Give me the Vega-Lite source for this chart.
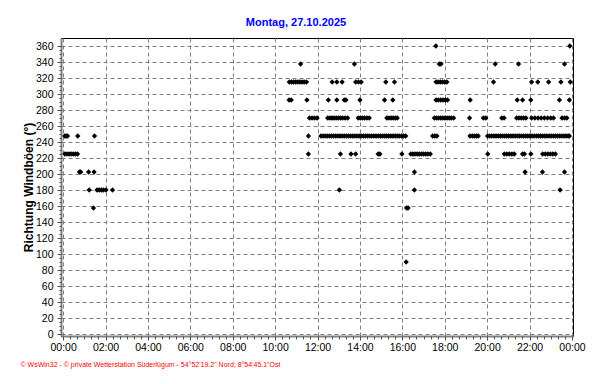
{
 "$schema": "https://vega.github.io/schema/vega-lite/v6.json",
 "width": 512,
 "height": 298,
 "autosize": {"type": "none"},
 "padding": {"left": 61, "top": 38, "right": 19, "bottom": 48},
 "background": "#ffffff",
 "title": {"text": "Montag, 27.10.2025", "color": "#0000ff", "font": "Liberation Sans", "fontSize": 11, "fontWeight": "bold", "anchor": "middle", "dx": -21, "offset": 10},
 "config": {
  "view": {"stroke": "#000000", "strokeWidth": 1},
  "axis": {"labelFont": "Liberation Sans", "labelFontSize": 10.5, "labelColor": "#000000", "gridColor": "#808080", "gridDash": [4, 3], "gridWidth": 1, "gridOpacity": 1, "domainColor": "#808080", "domainWidth": 2, "tickColor": "#505050", "tickSize": 4}
 },
 "data": {"values": [
  {"t": 17.58, "d": 360}, {"t": 23.9, "d": 360},
  {"t": 11.2, "d": 337.5}, {"t": 13.74, "d": 337.5}, {"t": 17.74, "d": 337.5}, {"t": 17.82, "d": 337.5}, {"t": 20.38, "d": 337.5}, {"t": 21.48, "d": 337.5}, {"t": 23.65, "d": 337.5},
  {"t": 10.67, "d": 315}, {"t": 10.77, "d": 315}, {"t": 10.87, "d": 315}, {"t": 10.97, "d": 315}, {"t": 11.07, "d": 315}, {"t": 11.17, "d": 315}, {"t": 11.27, "d": 315}, {"t": 11.37, "d": 315}, {"t": 11.48, "d": 315},
  {"t": 12.69, "d": 315}, {"t": 12.91, "d": 315}, {"t": 13.16, "d": 315}, {"t": 13.8, "d": 315}, {"t": 13.93, "d": 315}, {"t": 14.06, "d": 315}, {"t": 15.22, "d": 315}, {"t": 15.63, "d": 315},
  {"t": 17.59, "d": 315}, {"t": 17.69, "d": 315}, {"t": 17.79, "d": 315}, {"t": 17.89, "d": 315}, {"t": 17.99, "d": 315}, {"t": 18.1, "d": 315},
  {"t": 20.3, "d": 315}, {"t": 22.1, "d": 315}, {"t": 22.39, "d": 315}, {"t": 22.9, "d": 315}, {"t": 23.48, "d": 315}, {"t": 23.92, "d": 315},
  {"t": 10.66, "d": 292.5}, {"t": 10.76, "d": 292.5}, {"t": 11.5, "d": 292.5}, {"t": 12.51, "d": 292.5}, {"t": 12.91, "d": 292.5}, {"t": 13.26, "d": 292.5}, {"t": 13.34, "d": 292.5}, {"t": 14.0, "d": 292.5}, {"t": 15.16, "d": 292.5}, {"t": 15.55, "d": 292.5},
  {"t": 17.59, "d": 292.5}, {"t": 17.7, "d": 292.5}, {"t": 17.81, "d": 292.5}, {"t": 17.92, "d": 292.5}, {"t": 18.03, "d": 292.5}, {"t": 18.13, "d": 292.5},
  {"t": 19.2, "d": 292.5}, {"t": 21.42, "d": 292.5}, {"t": 21.67, "d": 292.5}, {"t": 22.06, "d": 292.5}, {"t": 23.41, "d": 292.5}, {"t": 23.88, "d": 292.5},
  {"t": 11.62, "d": 270}, {"t": 11.74, "d": 270}, {"t": 11.86, "d": 270}, {"t": 11.98, "d": 270},
  {"t": 12.48, "d": 270}, {"t": 12.58, "d": 270}, {"t": 12.68, "d": 270}, {"t": 12.78, "d": 270}, {"t": 12.88, "d": 270}, {"t": 12.98, "d": 270}, {"t": 13.08, "d": 270}, {"t": 13.18, "d": 270}, {"t": 13.3, "d": 270}, {"t": 13.42, "d": 270},
  {"t": 13.92, "d": 270}, {"t": 14.02, "d": 270}, {"t": 14.12, "d": 270}, {"t": 14.22, "d": 270}, {"t": 14.33, "d": 270}, {"t": 14.44, "d": 270},
  {"t": 15.27, "d": 270}, {"t": 15.37, "d": 270}, {"t": 15.47, "d": 270}, {"t": 15.57, "d": 270}, {"t": 15.67, "d": 270}, {"t": 15.76, "d": 270},
  {"t": 17.51, "d": 270}, {"t": 17.61, "d": 270}, {"t": 17.71, "d": 270}, {"t": 17.81, "d": 270}, {"t": 17.91, "d": 270}, {"t": 18.01, "d": 270}, {"t": 18.11, "d": 270}, {"t": 18.21, "d": 270}, {"t": 18.31, "d": 270}, {"t": 18.42, "d": 270},
  {"t": 19.17, "d": 270}, {"t": 19.82, "d": 270}, {"t": 19.94, "d": 270}, {"t": 20.69, "d": 270}, {"t": 20.8, "d": 270},
  {"t": 21.39, "d": 270}, {"t": 21.5, "d": 270}, {"t": 21.61, "d": 270}, {"t": 21.72, "d": 270}, {"t": 21.83, "d": 270},
  {"t": 22.1, "d": 270}, {"t": 22.25, "d": 270}, {"t": 22.4, "d": 270}, {"t": 22.55, "d": 270}, {"t": 22.7, "d": 270}, {"t": 22.85, "d": 270}, {"t": 23.0, "d": 270}, {"t": 23.13, "d": 270},
  {"t": 23.53, "d": 270}, {"t": 23.65, "d": 270}, {"t": 23.76, "d": 270},
  {"t": 0.08, "d": 247.5}, {"t": 0.15, "d": 247.5}, {"t": 0.21, "d": 247.5}, {"t": 0.69, "d": 247.5}, {"t": 1.48, "d": 247.5}, {"t": 11.57, "d": 247.5},
  {"t": 12.16, "d": 247.5}, {"t": 12.26, "d": 247.5}, {"t": 12.36, "d": 247.5}, {"t": 12.46, "d": 247.5}, {"t": 12.56, "d": 247.5}, {"t": 12.66, "d": 247.5}, {"t": 12.76, "d": 247.5}, {"t": 12.86, "d": 247.5}, {"t": 12.96, "d": 247.5}, {"t": 13.06, "d": 247.5},
  {"t": 13.16, "d": 247.5}, {"t": 13.26, "d": 247.5}, {"t": 13.36, "d": 247.5}, {"t": 13.46, "d": 247.5}, {"t": 13.56, "d": 247.5}, {"t": 13.66, "d": 247.5}, {"t": 13.76, "d": 247.5}, {"t": 13.86, "d": 247.5}, {"t": 13.96, "d": 247.5}, {"t": 14.06, "d": 247.5},
  {"t": 14.16, "d": 247.5}, {"t": 14.26, "d": 247.5}, {"t": 14.36, "d": 247.5}, {"t": 14.46, "d": 247.5}, {"t": 14.56, "d": 247.5}, {"t": 14.66, "d": 247.5}, {"t": 14.76, "d": 247.5}, {"t": 14.86, "d": 247.5}, {"t": 14.96, "d": 247.5}, {"t": 15.06, "d": 247.5},
  {"t": 15.16, "d": 247.5}, {"t": 15.26, "d": 247.5}, {"t": 15.36, "d": 247.5}, {"t": 15.46, "d": 247.5}, {"t": 15.56, "d": 247.5}, {"t": 15.66, "d": 247.5}, {"t": 15.76, "d": 247.5}, {"t": 15.86, "d": 247.5}, {"t": 15.96, "d": 247.5}, {"t": 16.06, "d": 247.5}, {"t": 16.16, "d": 247.5},
  {"t": 17.43, "d": 247.5}, {"t": 17.53, "d": 247.5}, {"t": 17.63, "d": 247.5},
  {"t": 19.19, "d": 247.5}, {"t": 19.3, "d": 247.5}, {"t": 19.4, "d": 247.5}, {"t": 19.5, "d": 247.5}, {"t": 19.58, "d": 247.5},
  {"t": 20.02, "d": 247.5}, {"t": 20.12, "d": 247.5}, {"t": 20.22, "d": 247.5}, {"t": 20.32, "d": 247.5}, {"t": 20.42, "d": 247.5}, {"t": 20.52, "d": 247.5}, {"t": 20.62, "d": 247.5}, {"t": 20.72, "d": 247.5}, {"t": 20.82, "d": 247.5}, {"t": 20.92, "d": 247.5},
  {"t": 21.02, "d": 247.5}, {"t": 21.12, "d": 247.5}, {"t": 21.22, "d": 247.5}, {"t": 21.32, "d": 247.5}, {"t": 21.42, "d": 247.5}, {"t": 21.52, "d": 247.5}, {"t": 21.62, "d": 247.5}, {"t": 21.72, "d": 247.5}, {"t": 21.82, "d": 247.5}, {"t": 21.92, "d": 247.5},
  {"t": 22.02, "d": 247.5}, {"t": 22.12, "d": 247.5}, {"t": 22.22, "d": 247.5}, {"t": 22.32, "d": 247.5}, {"t": 22.42, "d": 247.5}, {"t": 22.52, "d": 247.5}, {"t": 22.62, "d": 247.5}, {"t": 22.72, "d": 247.5}, {"t": 22.82, "d": 247.5}, {"t": 22.92, "d": 247.5},
  {"t": 23.02, "d": 247.5}, {"t": 23.12, "d": 247.5}, {"t": 23.22, "d": 247.5}, {"t": 23.32, "d": 247.5}, {"t": 23.42, "d": 247.5}, {"t": 23.52, "d": 247.5}, {"t": 23.62, "d": 247.5}, {"t": 23.72, "d": 247.5}, {"t": 23.82, "d": 247.5}, {"t": 23.88, "d": 247.5},
  {"t": 0.08, "d": 225}, {"t": 0.18, "d": 225}, {"t": 0.28, "d": 225}, {"t": 0.38, "d": 225}, {"t": 0.48, "d": 225}, {"t": 0.58, "d": 225}, {"t": 0.68, "d": 225},
  {"t": 11.57, "d": 225}, {"t": 13.08, "d": 225}, {"t": 13.58, "d": 225}, {"t": 13.8, "d": 225}, {"t": 14.86, "d": 225}, {"t": 14.94, "d": 225}, {"t": 15.98, "d": 225},
  {"t": 16.4, "d": 225}, {"t": 16.5, "d": 225}, {"t": 16.6, "d": 225}, {"t": 16.7, "d": 225}, {"t": 16.8, "d": 225}, {"t": 16.9, "d": 225}, {"t": 17.0, "d": 225}, {"t": 17.1, "d": 225}, {"t": 17.2, "d": 225}, {"t": 17.32, "d": 225},
  {"t": 20.03, "d": 225}, {"t": 20.81, "d": 225}, {"t": 20.93, "d": 225}, {"t": 21.05, "d": 225}, {"t": 21.17, "d": 225}, {"t": 21.28, "d": 225},
  {"t": 21.67, "d": 225}, {"t": 21.76, "d": 225}, {"t": 22.06, "d": 225},
  {"t": 22.62, "d": 225}, {"t": 22.74, "d": 225}, {"t": 22.86, "d": 225}, {"t": 22.98, "d": 225}, {"t": 23.1, "d": 225}, {"t": 23.22, "d": 225},
  {"t": 0.77, "d": 202.5}, {"t": 0.83, "d": 202.5}, {"t": 1.2, "d": 202.5}, {"t": 1.46, "d": 202.5}, {"t": 16.57, "d": 202.5}, {"t": 21.79, "d": 202.5}, {"t": 22.61, "d": 202.5}, {"t": 23.65, "d": 202.5},
  {"t": 1.23, "d": 180}, {"t": 1.6, "d": 180}, {"t": 1.7, "d": 180}, {"t": 1.8, "d": 180}, {"t": 1.9, "d": 180}, {"t": 2.02, "d": 180}, {"t": 2.33, "d": 180}, {"t": 13.03, "d": 180}, {"t": 16.57, "d": 180}, {"t": 23.44, "d": 180},
  {"t": 1.43, "d": 157.5}, {"t": 16.2, "d": 157.5}, {"t": 16.27, "d": 157.5},
  {"t": 16.18, "d": 90}
 ]},
 "layer": [
  {
   "mark": {"type": "point", "shape": "diamond", "filled": true, "color": "#000000", "opacity": 1, "size": 28},
   "encoding": {
    "x": {"field": "t", "type": "quantitative", "scale": {"domain": [-0.1, 24.05], "nice": false, "zero": false},
     "axis": {"values": [0, 2, 4, 6, 8, 10, 12, 14, 16, 18, 20, 22, 24], "labelExpr": "(datum.value % 24 < 10 ? '0' : '') + (datum.value % 24) + ':00'", "labelPadding": 2, "labelFlush": false, "labelOverlap": false,
      "title": "© WsWin32 - © private Wetterstation Süderlügum - 54°52'19.2\" Nord; 8°54'45.1\"Ost", "titleFont": "Liberation Sans", "titleFontSize": 7, "titleFontWeight": "normal", "titleColor": "#ff0000", "titleX": -41, "titleY": 28, "titleAlign": "left", "titleBaseline": "middle", "titleAnchor": "start"}},
    "y": {"field": "d", "type": "quantitative", "scale": {"domain": [-2.5, 370], "nice": false, "zero": false},
     "axis": {"values": [0, 20, 40, 60, 80, 100, 120, 140, 160, 180, 200, 220, 240, 260, 280, 300, 320, 340, 360], "labelPadding": 4, "labelFlush": false, "labelOverlap": false,
      "title": "Richtung Windböen (°)", "titleFont": "Liberation Sans", "titleFontSize": 12, "titleFontWeight": "bold", "titleColor": "#000000", "titleX": -33, "titleY": 149, "titleAngle": -90, "titleAlign": "center", "titleBaseline": "middle"}}
   }
  },
  {
   "mark": {"type": "point", "opacity": 0},
   "encoding": {
    "x": {"field": "t", "type": "quantitative",
     "axis": {"orient": "bottom", "values": [0, 0.333, 0.667, 1, 1.333, 1.667, 2, 2.333, 2.667, 3, 3.333, 3.667, 4, 4.333, 4.667, 5, 5.333, 5.667, 6, 6.333, 6.667, 7, 7.333, 7.667, 8, 8.333, 8.667, 9, 9.333, 9.667, 10, 10.333, 10.667, 11, 11.333, 11.667, 12, 12.333, 12.667, 13, 13.333, 13.667, 14, 14.333, 14.667, 15, 15.333, 15.667, 16, 16.333, 16.667, 17, 17.333, 17.667, 18, 18.333, 18.667, 19, 19.333, 19.667, 20, 20.333, 20.667, 21, 21.333, 21.667, 22, 22.333, 22.667, 23, 23.333, 23.667, 24], "labels": false, "grid": false, "domain": false, "tickSize": 3, "title": null}},
    "y": {"field": "d", "type": "quantitative",
     "axis": {"orient": "left", "values": [0, 5, 10, 15, 20, 25, 30, 35, 40, 45, 50, 55, 60, 65, 70, 75, 80, 85, 90, 95, 100, 105, 110, 115, 120, 125, 130, 135, 140, 145, 150, 155, 160, 165, 170, 175, 180, 185, 190, 195, 200, 205, 210, 215, 220, 225, 230, 235, 240, 245, 250, 255, 260, 265, 270, 275, 280, 285, 290, 295, 300, 305, 310, 315, 320, 325, 330, 335, 340, 345, 350, 355, 360], "labels": false, "grid": false, "domain": false, "tickSize": 2, "title": null}}
   }
  }
 ],
 "resolve": {"axis": {"x": "independent", "y": "independent"}}
}
